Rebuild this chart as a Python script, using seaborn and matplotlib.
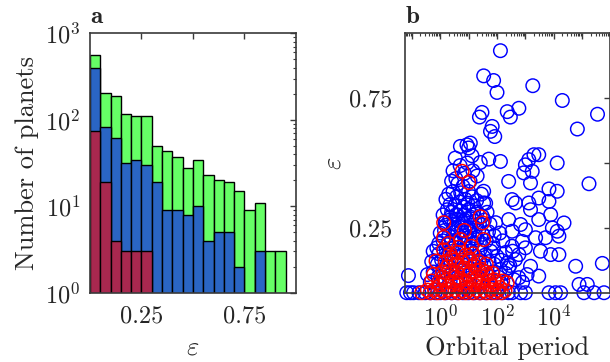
import numpy as np
import pandas as pd
import matplotlib
matplotlib.use("Agg")
import matplotlib.pyplot as plt
import seaborn as sns
from matplotlib.ticker import LogLocator, NullFormatter, FixedLocator

# ---------------- data: panel a (histogram counts per bin of eccentricity) ----
bin_edges = [0.00, 0.05, 0.10, 0.15, 0.20, 0.25, 0.30, 0.35, 0.40, 0.45,
             0.50, 0.55, 0.60, 0.65, 0.70, 0.75, 0.80, 0.85, 0.90, 0.95]
count_all = [560, 205, 186, 117, 111, 110, 50, 43, 37, 28,
             34, 23, 20, 19, 15, 9, 11, 3, 3]
count_blue = [393, 83, 61, 32, 34, 30, 19, 9, 9, 8,
              10, 4, 5, 5, 2, 0, 3, 0, 0]
count_red = [75, 19, 4, 3, 3, 3, 0, 0, 0, 0,
             0, 0, 0, 0, 0, 0, 0, 0, 0]

# ---------------- data: panel b (log10 orbital period, eccentricity) ---------
blue_logp = [
    2.12, 1.53, 1.88, 2.00, 3.26, 4.30, 5.54, 4.83, 2.77, 2.36, 2.47, 1.38, 1.47,
    1.83, 1.77, 1.92, 0.71, 0.94, 1.06, 1.00, 1.12, 0.53, 1.71, 2.12, 1.41,
    3.47, 3.30, 3.12, 3.00, 4.12, 5.24, 3.18, 3.24, 2.41, 3.83, 4.12, 3.47, 3.83,
    2.53, 2.65, 3.12, 3.18, 3.89, 4.36, 3.47, 3.95, 4.12, 4.18, 2.83, 2.41, 2.53,
    3.00, 3.36, 3.71, 2.89, 2.53, 3.00, 3.53, 3.89, 4.18, 2.77, 2.65, 4.77, 5.71,
    2.41, 3.18, 3.47, 3.06, 2.77, 4.89, 5.18, 1.53, 1.53, 2.94, 1.88, 2.12, 2.36,
    -1.12, -0.12,
    -1.18, -1.05, -0.94, -0.75, -0.53, -0.35, -0.18, 2.53, 2.83, 3.00, 3.83, 4.06,
    4.24, 5.06, 5.42, 5.77,
    0.00, 0.20, 0.40, 0.60, 0.80, 1.00, 1.20, 1.40, 1.60, 1.80, 2.00, 2.20, 2.40,
    0.45, 0.55, 0.70, 0.85, 0.95, 1.15, 0.62, 0.80, 1.05, 1.30, 0.40,
    0.30, 0.45, 0.58, 0.72, 0.88, 1.00, 1.12, 1.28, 1.45, 0.35, 0.52, 0.68, 0.83,
    0.97, 1.18, 1.60, 0.20,
    0.10, 0.25, 0.40, 0.55, 0.70, 0.85, 1.00, 1.15, 1.30, 1.48, 1.65, 0.18, 0.33,
    0.48, 0.62, 0.78, 0.93, 1.08, 1.22, 1.38, 1.55, 1.75, 1.95,
    0.00, 0.15, 0.30, 0.45, 0.60, 0.75, 0.90, 1.05, 1.20, 1.35, 1.50, 1.70, 1.90,
    2.10, -0.05, 0.10, 0.25, 0.40, 0.55, 0.70, 0.85, 1.00, 1.15, 1.30, 1.45, 1.62,
    1.85, 2.20,
    -0.25, -0.05, 0.12, 0.28, 0.45, 0.60, 0.78, 0.92, 1.08, 1.25, 1.40, 1.58, 1.78,
    2.00, 2.30, 2.55, -0.30, -0.10, 0.05, 0.22, 0.38, 0.55, 0.72, 0.88, 1.05, 1.22,
    1.38, 1.55, 1.72, 1.90, 2.15, 2.45,
    -0.45, -0.25, -0.08, 0.10, 0.28, 0.45, 0.62, 0.80, 0.98, 1.15, 1.32, 1.50, 1.68,
    1.85, 2.05, 2.30, 2.60, 2.90, -0.35, 0.00, 0.35, 0.70, 1.05, 1.40, 1.75, 2.15,
    0.35, 0.60, 0.85, 1.10, 0.50, 0.75, 1.00, 0.20, 0.65, 0.90, 1.20, 0.40,
]
blue_ecc = [
    0.933, 0.836, 0.818, 0.772, 0.798, 0.741, 0.688, 0.631, 0.711, 0.698, 0.677, 0.677, 0.695,
    0.641, 0.622, 0.602, 0.564, 0.570, 0.577, 0.558, 0.528, 0.519, 0.515, 0.506, 0.502,
    0.532, 0.532, 0.513, 0.493, 0.500, 0.420, 0.423, 0.468, 0.429, 0.400, 0.391, 0.365, 0.352,
    0.359, 0.346, 0.346, 0.320, 0.301, 0.269, 0.282, 0.250, 0.237, 0.218, 0.263, 0.282, 0.237,
    0.243, 0.212, 0.212, 0.198, 0.179, 0.173, 0.160, 0.147, 0.147, 0.147, 0.128, 0.102, 0.113,
    0.096, 0.102, 0.064, 0.070, 0.058, 0.032, 0.032, 0.391, 0.346, 0.462, 0.173, 0.090, 0.115,
    0.066, 0.173,
    0.0, 0.0, 0.0, 0.0, 0.0, 0.0, 0.0, 0.0, 0.0, 0.0, 0.0, 0.0,
    0.0, 0.0, 0.0, 0.0,
    0.0, 0.0, 0.0, 0.0, 0.0, 0.0, 0.0, 0.0, 0.0, 0.0, 0.0, 0.0, 0.0,
    0.47, 0.44, 0.49, 0.46, 0.50, 0.47, 0.42, 0.41, 0.43, 0.45, 0.43,
    0.38, 0.39, 0.37, 0.385, 0.36, 0.39, 0.37, 0.355, 0.38, 0.34, 0.335, 0.35, 0.33,
    0.345, 0.335, 0.345, 0.36,
    0.30, 0.32, 0.31, 0.30, 0.315, 0.30, 0.32, 0.30, 0.31, 0.295, 0.31, 0.27, 0.28,
    0.265, 0.28, 0.27, 0.285, 0.26, 0.275, 0.265, 0.28, 0.265, 0.27,
    0.23, 0.24, 0.22, 0.245, 0.225, 0.24, 0.22, 0.235, 0.22, 0.24, 0.225, 0.235, 0.22,
    0.23, 0.19, 0.20, 0.185, 0.20, 0.19, 0.205, 0.185, 0.20, 0.19, 0.205, 0.185, 0.20,
    0.19, 0.20,
    0.16, 0.15, 0.165, 0.145, 0.16, 0.14, 0.165, 0.145, 0.16, 0.14, 0.165, 0.145, 0.16,
    0.14, 0.155, 0.16, 0.12, 0.11, 0.125, 0.105, 0.12, 0.11, 0.125, 0.105, 0.12, 0.10,
    0.125, 0.105, 0.12, 0.11, 0.125, 0.105,
    0.07, 0.08, 0.06, 0.085, 0.065, 0.08, 0.06, 0.085, 0.065, 0.08, 0.06, 0.085, 0.065,
    0.08, 0.06, 0.075, 0.05, 0.04, 0.04, 0.035, 0.045, 0.03, 0.045, 0.035, 0.045, 0.035,
    0.29, 0.30, 0.28, 0.29, 0.25, 0.255, 0.25, 0.26, 0.21, 0.21, 0.21, 0.17,
]

red_logp = [
    0.77, 1.00, 0.12, 1.41, 1.49, 0.12, 0.71, 1.53, 0.65, 1.10, -0.15, 0.41, 1.03,
    -0.24, 1.65, 2.36,
    -0.65, -0.35, -0.10, 0.15, 0.40, 0.65, 0.90, 1.15, 1.40, 1.65, 1.90, 2.15,
    0.00, 0.30, 0.60, 0.90, 1.20, 1.50, 1.80, 2.10,
    0.10, 0.40, 0.70, 1.00, 1.30, 1.90, 2.20,
    0.25, 0.55, 0.85, 1.20, 1.45, 0.35, 0.90, 0.12,
    -0.45, -0.20, 0.05, 0.28, 0.52, 0.78, 1.02, 1.28, 1.55, 1.78, 2.02, 2.28,
    -0.30, -0.05, 0.20, 0.45, 0.70, 0.95, 1.22, 1.48, 1.72, 2.00,
    0.08, 0.32, 0.58, 0.82, 1.08, 1.35, 1.60, 1.85,
    0.18, 0.48, 0.78, 1.05, 1.35, 1.62,
    0.62, 1.15, 0.30, 0.85,
]
red_ecc = [
    0.468, 0.425, 0.270, 0.293, 0.269, 0.213, 0.205, 0.205, 0.175, 0.179, 0.122, 0.135, 0.122,
    0.070, 0.070, 0.038,
    0.0, 0.0, 0.0, 0.0, 0.0, 0.0, 0.0, 0.0, 0.0, 0.0, 0.0, 0.0,
    0.030, 0.025, 0.035, 0.020, 0.030, 0.025, 0.030, 0.020,
    0.060, 0.075, 0.055, 0.070, 0.060, 0.050, 0.045,
    0.100, 0.110, 0.095, 0.105, 0.090, 0.150, 0.145, 0.165,
    0.010, 0.012, 0.008, 0.012, 0.010, 0.008, 0.012, 0.010, 0.008, 0.012, 0.010, 0.008,
    0.045, 0.040, 0.048, 0.042, 0.045, 0.040, 0.048, 0.042, 0.045, 0.040,
    0.080, 0.085, 0.078, 0.088, 0.082, 0.085, 0.080, 0.075,
    0.120, 0.125, 0.118, 0.130, 0.120, 0.110,
    0.155, 0.150, 0.190, 0.240,
]

# ---------------- styling ---------------------------------------------------
sns.set_style("white")
plt.rcParams["font.family"] = ["cmr10", "DejaVu Serif"]
plt.rcParams["mathtext.fontset"] = "cm"
plt.rcParams["axes.formatter.use_mathtext"] = True
plt.rcParams["axes.unicode_minus"] = False

GREEN = "#66FF66"
BLUE_BAR = "#2A65C4"
RED_BAR = "#A8284F"
AX_COL = "#3a3a3a"

fig = plt.figure(figsize=(6.10, 3.62), dpi=100)
ax1 = fig.add_axes([0.1475, 0.1914, 0.3377, 0.7166])
ax2 = fig.add_axes([0.664, 0.1914, 0.336, 0.7166])

# ---------------- panel a ---------------------------------------------------
edges = [float(e) for e in bin_edges]
centers = [(a + b) / 2 for a, b in zip(edges[:-1], edges[1:])]
for counts, col in [(count_all, GREEN), (count_blue, BLUE_BAR), (count_red, RED_BAR)]:
    df = pd.DataFrame({"ecc": centers, "n": counts})
    sns.histplot(data=df, x="ecc", weights="n", bins=edges, ax=ax1, color=col,
                 alpha=1.0, edgecolor="black", linewidth=1.0, stat="count")
for p in list(ax1.patches):
    if p.get_height() <= 0:
        p.remove()
ax1.set_yscale("log")
ax1.set_ylim(1, 1000)
ax1.set_xlim(0, 1)
ax1.set_xticks([0.25, 0.5, 0.75])
ax1.set_xticklabels(["0.25", "", "0.75"])
ax1.yaxis.set_major_locator(LogLocator(base=10, numticks=10))
ax1.yaxis.set_minor_locator(LogLocator(base=10, subs=np.arange(2, 10), numticks=20))
ax1.yaxis.set_minor_formatter(NullFormatter())
ax1.set_xlabel(r"$\varepsilon$", fontsize=19, labelpad=6)
ax1.set_ylabel("Number of planets", fontsize=19, labelpad=4)
ax1.text(0.0, 1.02, r"$\mathbf{a}$", transform=ax1.transAxes, fontsize=18,
         ha="left", va="bottom")

# ---------------- panel b ---------------------------------------------------
dfb = pd.DataFrame({"period": 10 ** np.array(blue_logp), "ecc": blue_ecc})
dfr = pd.DataFrame({"period": 10 ** np.array(red_logp), "ecc": red_ecc})
for d, col in [(dfb, "#0000FF"), (dfr, "#FF0000")]:
    sns.scatterplot(data=d, x="period", y="ecc", ax=ax2, marker="o", s=95,
                    linewidth=1.05, legend=False)
    coll = ax2.collections[-1]
    coll.set_facecolor("none")
    coll.set_edgecolor(col)
    coll.set_clip_on(False)
ax2.set_xscale("log")
ax2.set_xlim(10 ** -1.24, 10 ** 5.98)
ax2.set_ylim(0, 1)
xt = 10.0 ** np.arange(-1, 6)
ax2.xaxis.set_major_locator(FixedLocator(xt))
ax2.set_xticklabels(["", r"$10^{0}$", "", r"$10^{2}$", "", r"$10^{4}$", ""])
ax2.xaxis.set_minor_locator(LogLocator(base=10, subs=np.arange(2, 10), numticks=20))
ax2.xaxis.set_minor_formatter(NullFormatter())
ax2.set_yticks([0.25, 0.5, 0.75])
ax2.set_yticklabels(["0.25", "", "0.75"])
ax2.set_xlabel("Orbital period", fontsize=19, labelpad=4)
ax2.set_ylabel(r"$\varepsilon$", fontsize=19, labelpad=3)
ax2.text(0.0, 1.02, r"$\mathbf{b}$", transform=ax2.transAxes, fontsize=18,
         ha="left", va="bottom")

for ax in (ax1, ax2):
    for s in ax.spines.values():
        s.set_visible(True)
        s.set_color(AX_COL)
        s.set_linewidth(1.2)
        s.set_zorder(3)
    ax.tick_params(which="both", direction="in", top=True, right=True,
                   colors=AX_COL, labelcolor="#262626")
    ax.tick_params(which="major", length=4, width=1.0, labelsize=17.5, pad=9)
    ax.tick_params(which="minor", length=2.2, width=0.8)
ax1.tick_params(axis="y", which="major", pad=7)
ax2.tick_params(axis="y", which="major", pad=9)

fig.savefig("out.png", dpi=100)
